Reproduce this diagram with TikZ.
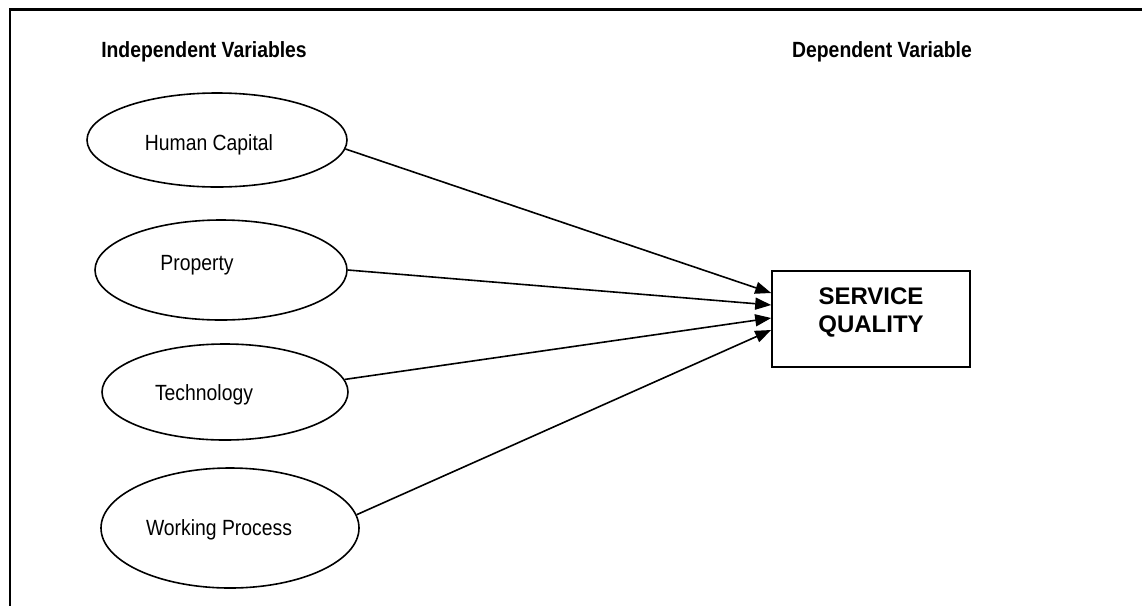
\documentclass[tikz,border=0pt]{standalone}
\usepackage{fontspec}
\setmainfont{Liberation Sans}
\newfontfamily\narrowfont[FakeStretch=0.88]{Liberation Sans}
\usetikzlibrary{shapes.geometric}
\usetikzlibrary{arrows.meta}
\usetikzlibrary{calc}

\begin{document}
\begin{tikzpicture}[x=1pt,y=-1pt,line width=1.6pt,
  var/.style={draw,ellipse,inner sep=0pt},
  heading/.style={font=\narrowfont\fontsize{22}{26}\selectfont\bfseries},
  varlabel/.style={font=\narrowfont\fontsize{22}{26}\selectfont},
  link/.style={-{Triangle[length=16pt,width=12pt]}}]
\useasboundingbox (0,0) rectangle (1142,606);
\draw[line width=2.2pt] (1142,9.5) -- (10,9.5) -- (10,606);
\draw (204,52) node (indep) [heading] {Independent Variables};
\draw (882,52) node (dep) [heading] {Dependent Variable};
\draw (217,140) node (hc) [var,minimum width=260pt,minimum height=94pt,
  label={[varlabel,xshift=-8pt,yshift=-5pt]center:Human Capital}] {};
\draw (221,270) node (prop) [var,minimum width=252pt,minimum height=100pt,
  label={[varlabel,xshift=-24pt,yshift=5pt]center:Property}] {};
\draw (225,392) node (tech) [var,minimum width=246pt,minimum height=96pt,
  label={[varlabel,xshift=-21pt,yshift=-3pt]center:Technology}] {};
\draw (230,528) node (wp) [var,minimum width=258pt,minimum height=120pt,
  label={[varlabel,xshift=-11pt,yshift=-2pt]center:Working Process}] {};
\draw (871,319) node (sq) [draw,minimum width=198pt,minimum height=96pt,align=center,
  font=\fontsize{24}{28}\selectfont\bfseries] {SERVICE\\QUALITY\\[-10pt]\mbox{}};
\coordinate (in1) at ($(sq.west)+(0,-26)$);
\coordinate (in2) at ($(sq.west)+(0,-14)$);
\coordinate (in3) at ($(sq.west)+(0,-1)$);
\coordinate (in4) at ($(sq.west)+(0,11)$);
\draw[link] (hc.-4) -- (in1);
\draw[link] (prop.east) -- (in2);
\draw[link] (tech.6) -- (in3);
\draw[link] (wp.6) -- (in4);
\end{tikzpicture}
\end{document}
